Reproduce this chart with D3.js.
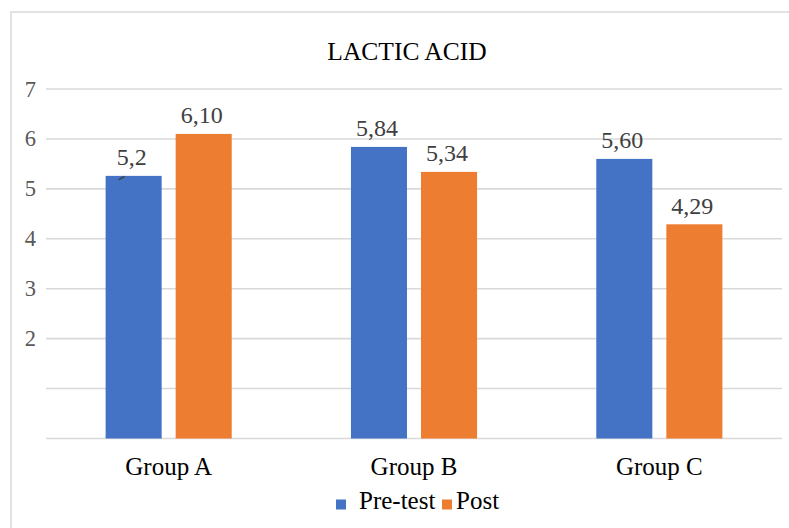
<!DOCTYPE html>
<html>
<head>
<meta charset="utf-8">
<script src="https://cdn.jsdelivr.net/npm/d3@7/dist/d3.min.js"></script>
<style>
html,body{margin:0;padding:0;background:#fff;}
svg text{font-family:'Liberation Serif','Times New Roman',Times,serif;}
</style>
</head>
<body>
<svg id="chart" width="789" height="528"></svg>
<script>
const title = "LACTIC ACID";
const categories = ["Group A", "Group B", "Group C"];
const seriesNames = ["Pre-test", "Post"];
const preTest = [5.26, 5.84, 5.60];
const post = [6.10, 5.34, 4.29];
const dataLabelsPre = ["5,2", "5,84", "5,60"];
const dataLabelsPost = ["6,10", "5,34", "4,29"];
const yTicks = [0, 1, 2, 3, 4, 5, 6, 7];
const yTickLabels = ["", "", "2", "3", "4", "5", "6", "7"];
const colors = ["#4472C4", "#ED7D31"];

const FONT = "'Liberation Serif', 'Times New Roman', Times, serif";
const svg = d3.select("#chart");
const W = 789, H = 528;

// chart border
svg.append("rect").attr("x", 11).attr("y", 12).attr("width", W + 10).attr("height", H + 10)
  .attr("fill", "none").attr("stroke", "#d9d9d9").attr("stroke-width", 1.5);

const plot = {left: 46, right: 782, top: 89, bottom: 438.5};

const y = d3.scaleLinear().domain([0, 7]).range([plot.bottom, plot.top]);
const x0 = d3.scaleBand().domain(categories).range([plot.left, plot.right]).paddingInner(0.486).paddingOuter(0.243);
const x1 = d3.scaleBand().domain(seriesNames).range([0, x0.bandwidth()]).paddingInner(0.2).paddingOuter(0);

// gridlines
svg.append("g").selectAll("line").data(yTicks).join("line")
  .attr("x1", plot.left).attr("x2", plot.right)
  .attr("y1", d => y(d)).attr("y2", d => y(d))
  .attr("stroke", "#d9d9d9").attr("stroke-width", 1.6);

// y tick labels
svg.append("g").selectAll("text").data(yTicks).join("text")
  .attr("x", 36).attr("y", d => y(d) + 7.5)
  .attr("font-family", FONT)
  .attr("text-anchor", "end").attr("font-size", 22.5).attr("fill", "#595959")
  .text((d, i) => yTickLabels[i]);

// title
svg.append("text").attr("x", 407).attr("y", 59.5).attr("text-anchor", "middle")
  .attr("font-family", FONT)
  .attr("font-size", 25.5).attr("fill", "#000").text(title);

const rows = categories.map((c, i) => ({
  cat: c,
  vals: [
    {s: seriesNames[0], v: preTest[i], label: dataLabelsPre[i], color: colors[0]},
    {s: seriesNames[1], v: post[i], label: dataLabelsPost[i], color: colors[1]}
  ]
}));

const groups = svg.append("g").selectAll("g").data(rows).join("g")
  .attr("transform", d => `translate(${x0(d.cat)},0)`);

groups.selectAll("rect").data(d => d.vals).join("rect")
  .attr("x", d => x1(d.s)).attr("width", x1.bandwidth())
  .attr("y", d => y(d.v)).attr("height", d => y(0) - y(d.v))
  .attr("fill", d => d.color);

groups.selectAll("text.dl").data(d => d.vals).join("text").attr("class", "dl")
  .attr("x", d => x1(d.s) + x1.bandwidth() / 2 - 2)
  .attr("y", d => y(d.v) - 10.5)
  .attr("font-family", FONT)
  .attr("text-anchor", "middle").attr("font-size", 24).attr("fill", "#404040")
  .text(d => d.label);

// small stray stroke under the first label (as in the source)
const first = rows[0].vals[0];
svg.append("path")
  .attr("d", `M${x0(rows[0].cat) + x1(first.s) + 13},${y(first.v) + 4} l6,-3.5`)
  .attr("stroke", "#404040").attr("stroke-width", 1.3).attr("fill", "none");

// category labels
svg.append("g").selectAll("text").data(categories).join("text")
  .attr("x", d => x0(d) + x0.bandwidth() / 2).attr("y", 475)
  .attr("font-family", FONT)
  .attr("text-anchor", "middle").attr("font-size", 25).attr("fill", "#000")
  .text(d => d);

// legend
const legendItems = [
  {name: seriesNames[0], color: colors[0], sx: 336, tx: 359},
  {name: seriesNames[1], color: colors[1], sx: 442, tx: 456}
];
const lg = svg.append("g");
lg.selectAll("rect").data(legendItems).join("rect")
  .attr("x", d => d.sx).attr("y", 499.5).attr("width", 10).attr("height", 10)
  .attr("fill", d => d.color);
lg.selectAll("text").data(legendItems).join("text")
  .attr("x", d => d.tx).attr("y", 509)
  .attr("font-family", FONT).attr("font-size", 25).attr("fill", "#000")
  .text(d => d.name);
</script>
</body>
</html>
